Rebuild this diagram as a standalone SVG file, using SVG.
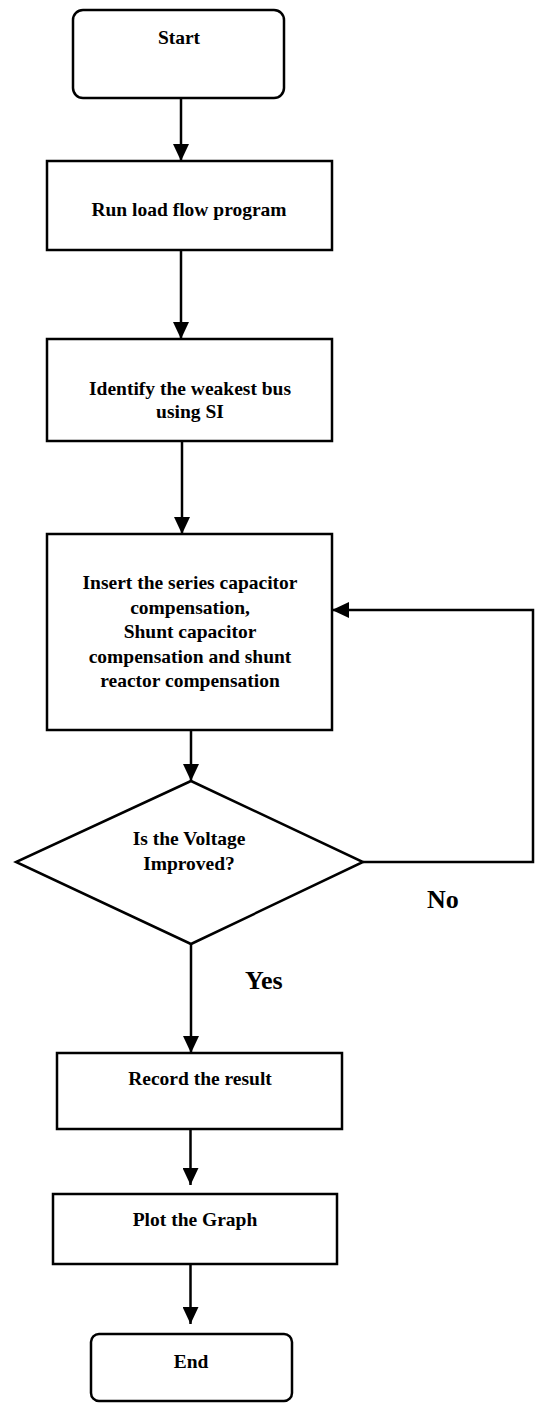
<svg xmlns="http://www.w3.org/2000/svg" width="535" height="1403" viewBox="0 0 535 1403">
<style>
.box{fill:#fff;stroke:#000;stroke-width:2.5}
.t{font-family:"Liberation Serif","Times New Roman",serif;font-weight:bold;font-size:19.5px;fill:#000;text-anchor:middle}
.lbl{font-family:"Liberation Serif","Times New Roman",serif;font-weight:bold;font-size:26px;fill:#000}
.c{fill:none;stroke:#000;stroke-width:2.5}
</style>
<defs>
<marker id="ah" markerUnits="userSpaceOnUse" markerWidth="17" markerHeight="16" refX="17" refY="8" orient="auto">
<path d="M0,0 L17,8 L0,16 z" fill="#000"/>
</marker>
</defs>
<rect width="535" height="1403" fill="#fff"/>
<g id="connectors">
<line class="c" x1="181" y1="98" x2="181" y2="161" marker-end="url(#ah)"/>
<line class="c" x1="181" y1="250" x2="181" y2="339" marker-end="url(#ah)"/>
<line class="c" x1="182" y1="441" x2="182" y2="534" marker-end="url(#ah)"/>
<line class="c" x1="191" y1="730" x2="191" y2="781" marker-end="url(#ah)"/>
<line class="c" x1="191" y1="944" x2="191" y2="1053" marker-end="url(#ah)"/>
<line class="c" x1="190.5" y1="1129" x2="190.5" y2="1185" marker-end="url(#ah)"/>
<line class="c" x1="190.5" y1="1264" x2="190.5" y2="1324" marker-end="url(#ah)"/>
<polyline class="c" points="363,862 533,862 533,610 332,610" marker-end="url(#ah)"/>
<text class="lbl" x="245" y="989">Yes</text>
<text class="lbl" x="427" y="908">No</text>
</g>
<g id="start">
<rect class="box" x="73" y="10" width="211" height="88" rx="10"/>
<text class="t" x="179" y="44">Start</text>
</g>
<g id="loadflow">
<rect class="box" x="47" y="161" width="285" height="89"/>
<text class="t" x="189" y="216">Run load flow program</text>
</g>
<g id="identify">
<rect class="box" x="47" y="339" width="285" height="102"/>
<text class="t" x="190" y="395">Identify the weakest bus</text>
<text class="t" x="190" y="418">using SI</text>
</g>
<g id="insert">
<rect class="box" x="47" y="534" width="285" height="196"/>
<text class="t" x="190" y="589">Insert the series capacitor</text>
<text class="t" x="190" y="613.5">compensation,</text>
<text class="t" x="190" y="638">Shunt capacitor</text>
<text class="t" x="190" y="662.5">compensation and shunt</text>
<text class="t" x="190" y="687">reactor compensation</text>
</g>
<g id="decision">
<polygon class="box" points="191,781 363,862 191,944 16,862"/>
<text class="t" x="189" y="845">Is the Voltage</text>
<text class="t" x="189" y="870">Improved?</text>
</g>
<g id="record">
<rect class="box" x="57" y="1053" width="285" height="76"/>
<text class="t" x="200" y="1085">Record the result</text>
</g>
<g id="plot">
<rect class="box" x="53" y="1194" width="284" height="70"/>
<text class="t" x="195" y="1226">Plot the Graph</text>
</g>
<g id="end">
<rect class="box" x="91" y="1334" width="201" height="67" rx="8"/>
<text class="t" x="191" y="1368">End</text>
</g>
</svg>
